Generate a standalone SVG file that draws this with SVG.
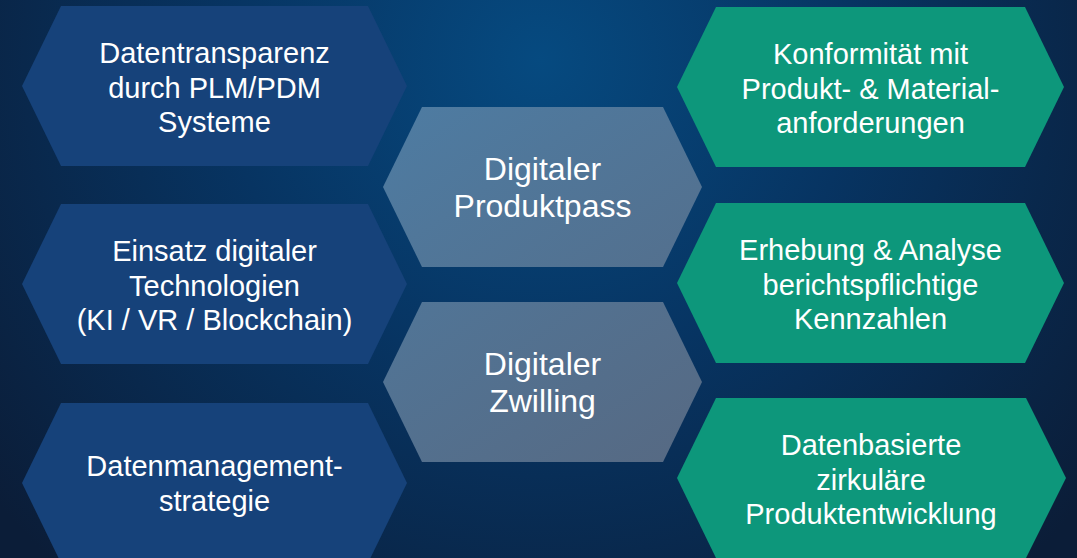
<svg xmlns="http://www.w3.org/2000/svg" width="1077" height="558" viewBox="0 0 1077 558">
  <defs>
    <radialGradient id="bg" gradientUnits="userSpaceOnUse" cx="540" cy="60" r="700">
      <stop offset="0" stop-color="#064a80"/>
      <stop offset="0.45" stop-color="#073462"/>
      <stop offset="1" stop-color="#0b1d38"/>
    </radialGradient>
    <linearGradient id="mid" gradientUnits="userSpaceOnUse" x1="420" y1="107" x2="660" y2="462">
      <stop offset="0" stop-color="#4e7ba1"/>
      <stop offset="1" stop-color="#566a84"/>
    </linearGradient>
    <style>
      .left { fill: #16427a; }
      .mid { fill: url(#mid); }
      .right { fill: #0d977b; }
      text { font-family: "Liberation Sans", Arial, sans-serif; font-size: 29px; fill: #ffffff; text-anchor: middle; }
      text.big { font-size: 32px; }
    </style>
  </defs>
  <rect x="0" y="0" width="1077" height="558" fill="url(#bg)"/>
  <g id="connectors"/>
  <g id="node-datentransparenz">
    <polygon class="left" points="22,86 61,6 368,6 407,86 368,166 61,166"/>
    <text x="214.5" y="63">Datentransparenz</text>
    <text x="214.5" y="97.5">durch PLM/PDM</text>
    <text x="214.5" y="132">Systeme</text>
  </g>
  <g id="node-einsatz">
    <polygon class="left" points="22,284 61,204 368,204 407,284 368,364 61,364"/>
    <text x="214.5" y="261">Einsatz digitaler</text>
    <text x="214.5" y="295.5">Technologien</text>
    <text x="214.5" y="330">(KI / VR / Blockchain)</text>
  </g>
  <g id="node-datenmanagement">
    <polygon class="left" points="22,483 61,403 368,403 407,483 368,563 61,563"/>
    <text x="214.5" y="476">Datenmanagement-</text>
    <text x="214.5" y="511">strategie</text>
  </g>
  <g id="node-produktpass">
    <polygon class="mid" points="383,187 422,107 663,107 702,187 663,267 422,267"/>
    <text class="big" x="542.5" y="180">Digitaler</text>
    <text class="big" x="542.5" y="217">Produktpass</text>
  </g>
  <g id="node-zwilling">
    <polygon class="mid" points="383,382 422,302 663,302 702,382 663,462 422,462"/>
    <text class="big" x="542.5" y="375">Digitaler</text>
    <text class="big" x="542.5" y="412">Zwilling</text>
  </g>
  <g id="node-konformitaet">
    <polygon class="right" points="677,87 716,7 1025,7 1064,87 1025,167 716,167"/>
    <text x="870.5" y="64">Konformität mit</text>
    <text x="870.5" y="98.5">Produkt- &amp; Material-</text>
    <text x="870.5" y="133">anforderungen</text>
  </g>
  <g id="node-erhebung">
    <polygon class="right" points="677,283 716,203 1025,203 1064,283 1025,363 716,363"/>
    <text x="870.5" y="260">Erhebung &amp; Analyse</text>
    <text x="870.5" y="294.5">berichtspflichtige</text>
    <text x="870.5" y="329">Kennzahlen</text>
  </g>
  <g id="node-datenbasierte">
    <polygon class="right" points="677,478 716,398 1026,398 1066,478 1026,558 716,558"/>
    <text x="871" y="455">Datenbasierte</text>
    <text x="871" y="489.5">zirkuläre</text>
    <text x="871" y="524">Produktentwicklung</text>
  </g>
</svg>
